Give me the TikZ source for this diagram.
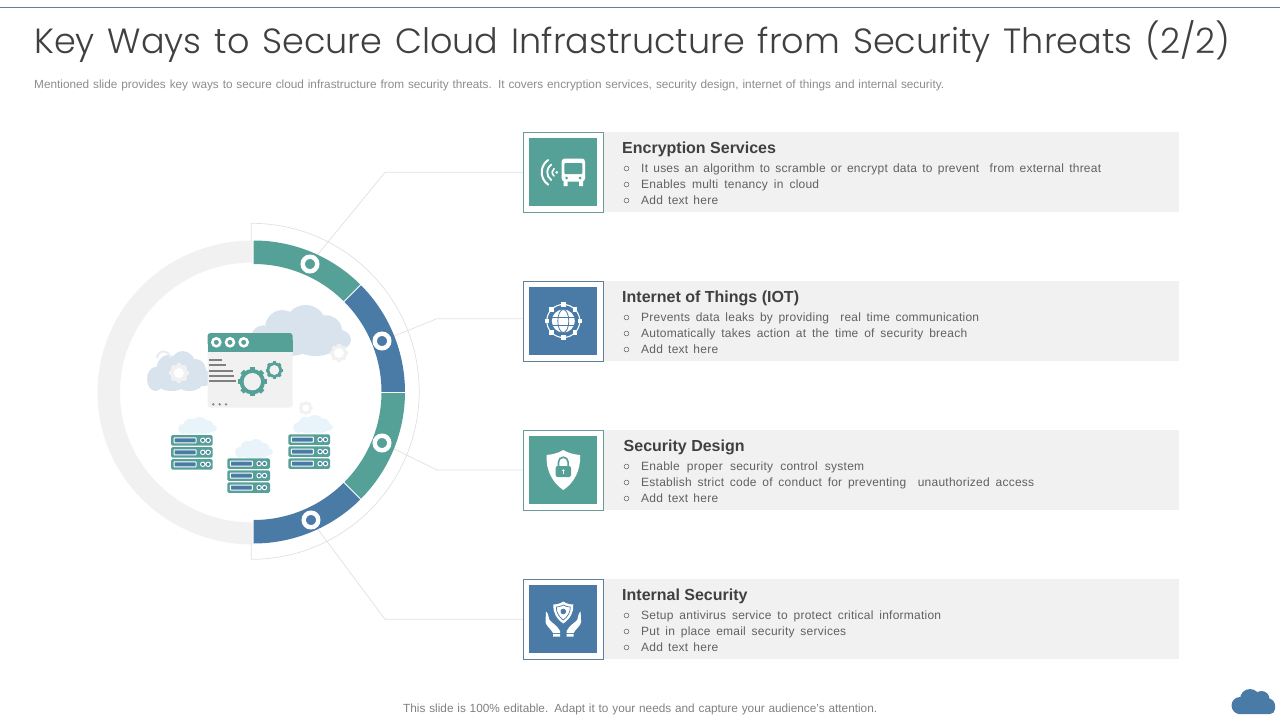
\documentclass[tikz,border=0pt]{standalone}
\usepackage{fontspec}
\setmainfont{Liberation Sans}
\newfontfamily\titlefont{Poppins Light}
\definecolor{teal1}{HTML}{56A197}
\definecolor{blue1}{HTML}{4A7BA6}
\definecolor{tealframe}{HTML}{6C9A9A}
\definecolor{blueframe}{HTML}{5F8098}
\definecolor{barg}{HTML}{F1F1F1}
\definecolor{ringg}{HTML}{F1F1F1}
\definecolor{lineg}{HTML}{E0E0E0}
\definecolor{cloudb}{HTML}{D9E3EE}
\definecolor{cloudc}{HTML}{E8F3FA}
\definecolor{txt}{HTML}{616161}
\definecolor{head}{HTML}{404040}
\definecolor{topline}{HTML}{6A7F90}
\usetikzlibrary{calc}
\pgfdeclarelayer{back}
\pgfsetlayers{back,main}
\newcommand{\fitw}[2]{\makebox[#1pt][s]{#2}}
\tikzset{
 x=1pt,y=-1pt,
 framebox/.style={draw=#1,line width=.8pt,fill=white,rectangle,minimum width=80.4pt,minimum height=80.2pt,inner sep=0pt,outer sep=0pt},
 connector/.style={draw=lineg,line width=.7pt},
 heading/.style={anchor=base west,font=\fontsize{16}{18}\selectfont\bfseries,text=head,inner sep=0pt},
 item/.style={anchor=base west,font=\fontsize{12}{14}\selectfont\addfontfeature{LetterSpace=2},text=txt,inner sep=0pt},
 bull/.style={draw=txt,line width=.5pt,fill=none},
 ringnode/.style={circle,draw=white,line width=4.4pt,fill=#1,minimum size=14.6pt,inner sep=0pt,outer sep=2.2pt},
 iconline/.style={white,line width=#1,line cap=round,fill=none},
}
\newcommand{\mycloud}[5]{% x0,y0,x1,y1,colour
 \pgfmathsetmacro\cw{#3-#1}\pgfmathsetmacro\ch{#4-#2}
 \fill[#5] \foreach \a/\b/\rx/\ry in {.13/.70/.13/.30,.32/.44/.17/.34,.55/.38/.20/.38,.75/.50/.16/.30,.87/.68/.13/.20,.38/.76/.25/.24,.65/.76/.22/.24}
 {(#1+\a*\cw,#2+\b*\ch) ellipse [x radius=\rx*\cw,y radius=\ry*\ch]};}
\newcommand{\gearicon}[5]{% x,y,r outer,r inner,colour
 \foreach \k in {0,45,...,315}{\fill[#5,shift={(#1,#2)},rotate=\k] (-.17*#3,-#3) rectangle (.17*#3,-.7*#3);}
 \fill[#5] (#1,#2) circle ({.88*#3});
 \fill[white] (#1,#2) circle (#4);}
\newcommand{\rack}[3]{% x,y,w
 \foreach \d in {0,12,24}{%
  \fill[teal1,rounded corners=1.5pt] (#1,#2+\d) rectangle (#1+#3,#2+\d+10.6);
  \draw[white,line width=1pt,fill=blue1,rounded corners=.6pt] (#1+3,#2+\d+2.8) rectangle (#1+25,#2+\d+7.8);
  \draw[white,line width=1pt,fill=blue1] (#1+31.8,#2+\d+5.3) circle (2.2) (#1+37.2,#2+\d+5.3) circle (2.2);
 }}
\newcommand{\card}[8]{% name,y,framecolour,fill,head x,head,l1,l2
 \fill[barg] (604,#2) rectangle (1179,#2+80);
 \node[framebox=#3] (#1) at (563.5,#2+40.2) {};
 \fill[#4] (529,#2+6) rectangle (597,#2+74);
 \node[heading] (#1h) at (#5,#2+21.5) {#6};
 \node[item] (#1a) at (641,#2+40.3) {#7};
 \node[item] (#1b) at (641,#2+56.3) {#8};
 \node[item] (#1c) at (641,#2+72.3) {\fitw{77}{Add text here}};
 \foreach \q in {36.5,52.5,68.5}{\draw[bull] (626.5,#2+\q) circle (2.4);}
}
\newcommand{\seg}[3]{\fill[#1,shift={(253.5,392)}] (#2:151.5) arc[start angle=#2,end angle=#3,radius=151.5] -- (#3:128) arc[start angle=#3,end angle=#2,radius=128] -- cycle;}
\begin{document}
\begin{tikzpicture}
\useasboundingbox (0,0) rectangle (1280,720);
\draw[topline,line width=.7pt] (0,7.5) -- (1280,7.5);
\node[anchor=base west,inner sep=0pt,font=\titlefont\fontsize{35}{40}\selectfont,text=head] (title) at (34,53) {\fitw{1196}{Key Ways to Secure Cloud Infrastructure from Security Threats (2/2)}};
\node[anchor=base west,inner sep=0pt,font=\fontsize{11.8}{14}\selectfont,text=gray!90] (sub) at (34,88) {\fitw{910}{Mentioned slide provides key ways to secure cloud infrastructure from security threats. It covers encryption services, security design, internet of things and internal security.}};
\node[anchor=base west,inner sep=0pt,font=\fontsize{11.8}{14}\selectfont,text=gray] (foot) at (403,712.5) {\fitw{474}{This slide is 100\% editable. Adapt it to your needs and capture your audience's attention.}};
% cards
\card{card1}{132}{tealframe}{teal1}{622}{Encryption Services}{\fitw{460}{It uses an algorithm to scramble or encrypt data to prevent \ from external threat}}{\fitw{178}{Enables multi tenancy in cloud}}
\card{card2}{281}{blueframe}{blue1}{622}{Internet of Things (IOT)}{\fitw{338}{Prevents data leaks by providing \ real time communication}}{\fitw{326}{Automatically takes action at the time of security breach}}
\card{card3}{430}{tealframe}{teal1}{623.5}{Security Design}{\fitw{223}{Enable proper security control system}}{\fitw{393}{Establish strict code of conduct for preventing \ unauthorized access}}
\card{card4}{579}{blueframe}{blue1}{622}{Internal Security}{\fitw{300}{Setup antivirus service to protect critical information}}{\fitw{205}{Put in place email security services}}
% rings
\fill[ringg] (252.5,240.5) arc[start angle=-90,end angle=-270,x radius=155,y radius=152] -- (252.5,522.5) arc[start angle=90,end angle=270,x radius=132.5,y radius=130] -- cycle;
\draw[connector] (251.2,241) -- (251.2,223.3) arc[start angle=-90,end angle=90,radius=168] -- (251.2,543);
\seg{teal1}{-90}{-45}
\seg{blue1}{-45}{0}
\seg{teal1}{0}{45}
\seg{blue1}{45}{90}
\foreach \ang in {-45,0,45}{\draw[white,line width=.8pt,shift={(253.5,392)}] (\ang:127) -- (\ang:152);}
\node[ringnode=teal1] (ring1) at (310,264) {};
\node[ringnode=blue1] (ring2) at (382,341) {};
\node[ringnode=teal1] (ring3) at (382,443) {};
\node[ringnode=blue1] (ring4) at (311,520) {};
% connectors
\coordinate (e1) at (385,172.3);
\coordinate (e2) at (437,318.7);
\coordinate (e3) at (437,470);
\coordinate (e4) at (385,619.3);
\begin{pgfonlayer}{back}
\foreach \i in {1,2,3,4}{\draw[connector] (ring\i) -- (e\i) -- (card\i.west |- e\i);}
\end{pgfonlayer}
% illustration clouds
\mycloud{250}{305}{351}{356}{cloudb}
\mycloud{147}{351}{212}{391}{cloudb}
\mycloud{178}{417}{217}{434}{cloudc}
\mycloud{235}{439}{273}{458}{cloudc}
\mycloud{293}{415}{333}{433}{cloudc}
\draw[ringg!60!cloudb,line width=2pt] (157,358) arc[start angle=180,end angle=360,radius=6.5];
\gearicon{179}{373}{10}{5}{ringg}
\gearicon{339}{353}{9}{5}{ringg}
\gearicon{305.7}{408}{7}{3.5}{ringg}
% window
\fill[ringg,rounded corners=3pt] (207.5,340) rectangle (292.7,407.5);
\fill[teal1,rounded corners=3pt] (207.5,333) rectangle (292.7,346);
\fill[teal1] (207.5,340) rectangle (292.7,351.7);
\foreach \xx in {216.3,230,243.7}{\draw[white,line width=2.5pt,fill=teal1] (\xx,342.3) circle (4);}
\foreach \yy/\xe in {360/221.7,365/226,370.7/232.7,376/234,381/236}{\draw[gray,line width=1.8pt] (209.3,\yy) -- (\xe,\yy);}
\gearicon{252.3}{381.7}{14.5}{8.5}{teal1}
\gearicon{274.3}{370}{8.8}{4.8}{teal1}
\fill[ringg] (252.3,381.7) circle (8.5);
\fill[ringg] (274.3,370) circle (4.8);
\foreach \xx in {213.3,219.7,226}{\fill[gray!80!teal1] (\xx,404.3) circle (1.3);}
\rack{171}{435}{41.7}
\rack{227.3}{458.3}{42.7}
\rack{288.3}{434.3}{41.7}
% icon 1: wifi and bus
\fill[white,rounded corners=3pt] (561.7,158.5) rectangle (585,181.5);
\fill[white] (563.5,180) rectangle (567.5,186) (579.2,180) rectangle (583.2,186);
\fill[teal1,rounded corners=1pt] (564.3,163) rectangle (582.4,174);
\fill[teal1] (566.5,178) circle (1.5) (580.2,178) circle (1.5);
\fill[white] (556.7,172.3) circle (1.5);
\foreach \rr/\wd in {4.5/1.6,9.5/1.8,15/2}{\draw[iconline=\wd pt] (556.7,172.3) ++(125:\rr) arc[start angle=125,end angle=235,radius=\rr];}
% icon 2: globe network
\draw[white,line width=1.1pt] (563.3,321) circle (16.5);
\foreach \ang in {0,45,...,315}{\fill[white,shift={(563.3,321)}] (\ang:16.5) ++(-2.3,-2.3) rectangle ++(4.6,4.6);}
\fill[white] (563.3,321) circle (11.5);
\draw[blue1,line width=.8pt] (563.3,321) ellipse [x radius=5.5,y radius=11.5];
\draw[blue1,line width=.8pt] (552.3,317) -- (574.3,317) (552.3,325) -- (574.3,325);
% icon 3: shield with lock
\fill[white] (563.3,450) .. controls (568,453) and (574,454.5) .. (580,455) .. controls (581,470) and (574,483) .. (563.3,490) .. controls (552.6,483) and (545.6,470) .. (546.6,455) .. controls (552.6,454.5) and (558.6,453) .. (563.3,450) -- cycle;
\fill[teal1,rounded corners=2pt] (555.7,466) rectangle (571,477);
\draw[teal1,line width=1.6pt] (558.5,466) -- (558.5,462) arc[start angle=180,end angle=360,radius=4.8] -- (568.1,466);
\fill[white] (563.3,470.5) circle (1.2);
\fill[white] (562.7,470.5) rectangle (563.9,474);
% icon 4: hands and shield
\fill[white] (563.3,601.5) .. controls (566,603.5) and (570,604.5) .. (573.3,604.5) .. controls (574,612) and (570,619) .. (563.3,623.5) .. controls (556.6,619) and (552.6,612) .. (553.3,604.5) .. controls (556.6,604.5) and (560.6,603.5) .. (563.3,601.5) -- cycle;
\draw[blue1,line width=.7pt] (563.3,605) .. controls (565.5,606.3) and (568,607) .. (570.3,607) .. controls (570.5,612) and (568,616.5) .. (563.3,620) .. controls (558.6,616.5) and (556.1,612) .. (556.3,607) .. controls (558.6,607) and (561.1,606.3) .. (563.3,605) -- cycle;
\fill[blue1] (563.3,611.5) circle (2.8);
\fill[white] (546,611.5) .. controls (548.5,613) and (548.5,618) .. (549.5,620) .. controls (552,623) and (557,625) .. (560,631) -- (560,633) -- (553,633) .. controls (551,629) and (546,626) .. (545.5,622) -- cycle;
\fill[white] (580.6,611.5) .. controls (578.1,613) and (578.1,618) .. (577.1,620) .. controls (574.6,623) and (569.6,625) .. (566.6,631) -- (566.6,633) -- (573.6,633) .. controls (575.6,629) and (580.6,626) .. (581.1,622) -- cycle;
\fill[white] (553,634) rectangle (560,636.5) (566.6,634) rectangle (573.6,636.5);
% corner cloud
\fill[blue1,rounded corners=5pt] (1234,700) rectangle (1275,714);
\fill[blue1] (1240,705.5) circle (8.5) (1250,699) circle (10) (1261.5,699) circle (8) (1267,706) circle (8);
\end{tikzpicture}
\end{document}
